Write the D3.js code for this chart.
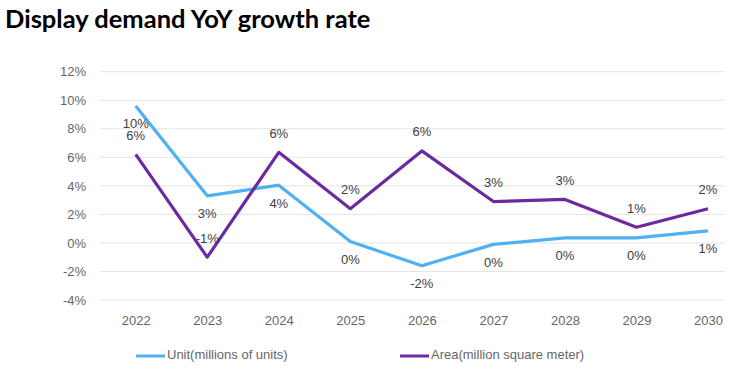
<!DOCTYPE html>
<html>
<head>
<meta charset="utf-8">
<script src="https://cdn.jsdelivr.net/npm/d3@7"></script>
<style>
  body { margin: 0; background: #fff; }
  text { font-family: "Liberation Sans", Arial, sans-serif; }
</style>
</head>
<body>
<div class="chart"></div>
<script>
const years = ["2022", "2023", "2024", "2025", "2026", "2027", "2028", "2029", "2030"]
const unitVals = [9.6, 3.3, 4.05, 0.1, -1.6, -0.1, 0.35, 0.35, 0.85]
const areaVals = [6.2, -1.0, 6.35, 2.4, 6.45, 2.9, 3.05, 1.1, 2.4]
const yTicks = [-4, -2, 0, 2, 4, 6, 8, 10, 12]
const seriesNames = ["Unit(millions of units)", "Area(million square meter)"]

const width = 756
const height = 373

const svg = d3.select(".chart").append("svg")
    .attr("width", width)
    .attr("height", height)

svg.append("text")
    .attr("x", 5)
    .attr("y", 28)
    .style("font-family", "Lato, sans-serif")
    .style("font-weight", "bold")
    .style("font-size", "25.5px")
    .attr("fill", "#000")
    .text("Display demand YoY growth rate")

const xScale = d3.scalePoint()
    .domain(years)
    .range([135.7, 708])

const yScale = d3.scaleLinear()
    .domain([-4, 12])
    .range([300, 71.7])

// gridlines
svg.append("g")
    .selectAll("line")
    .data(yTicks)
    .enter()
    .append("line")
    .attr("x1", 100)
    .attr("x2", 725)
    .attr("y1", d => yScale(d))
    .attr("y2", d => yScale(d))
    .attr("stroke", "#e3e3e3")
    .attr("stroke-width", 1)

const yAxis = svg.append("g")
    .attr("transform", "translate(86,0)")
    .call(d3.axisLeft(yScale).tickValues(yTicks).tickFormat(d => d + "%").tickSize(0).tickPadding(0))
yAxis.select(".domain").remove()
yAxis.selectAll("text")
    .style("font-size", "13px")
    .attr("fill", "#666")

const xAxis = svg.append("g")
    .attr("transform", "translate(0,312)")
    .call(d3.axisBottom(xScale).tickSize(0).tickPadding(4))
xAxis.select(".domain").remove()
xAxis.selectAll("text")
    .style("font-size", "13px")
    .attr("fill", "#666")

const series = [
    { name: seriesNames[0], values: unitVals, color: "#4fb0f2", dy: 19 },
    { name: seriesNames[1], values: areaVals, color: "#6b2a9e", dy: -18 }
]

const line = d3.line()
    .x((d, i) => xScale(years[i]))
    .y(d => yScale(d))

series.forEach(s => {
    svg.append("path")
        .datum(s.values)
        .attr("fill", "none")
        .attr("stroke", s.color)
        .attr("stroke-width", 3.2)
        .attr("stroke-linejoin", "round")
        .attr("d", line)

    svg.append("g")
        .selectAll("text")
        .data(s.values)
        .enter()
        .append("text")
        .attr("x", (d, i) => xScale(years[i]))
        .attr("y", d => yScale(d) + s.dy)
        .attr("text-anchor", "middle")
        .attr("dominant-baseline", "middle")
        .style("font-size", "13px")
        .attr("fill", "#404040")
        .text(d => Math.round(d) + "%")
})

// legend
const legendX = [136, 400]
series.forEach((s, i) => {
    svg.append("line")
        .attr("x1", legendX[i])
        .attr("x2", legendX[i] + 29)
        .attr("y1", 356)
        .attr("y2", 356)
        .attr("stroke", s.color)
        .attr("stroke-width", 3)
    svg.append("text")
        .attr("x", legendX[i] + 31)
        .attr("y", 356)
        .attr("dominant-baseline", "middle")
        .style("font-size", "13px")
        .attr("fill", "#666")
        .text(s.name)
})
</script>
</body>
</html>
